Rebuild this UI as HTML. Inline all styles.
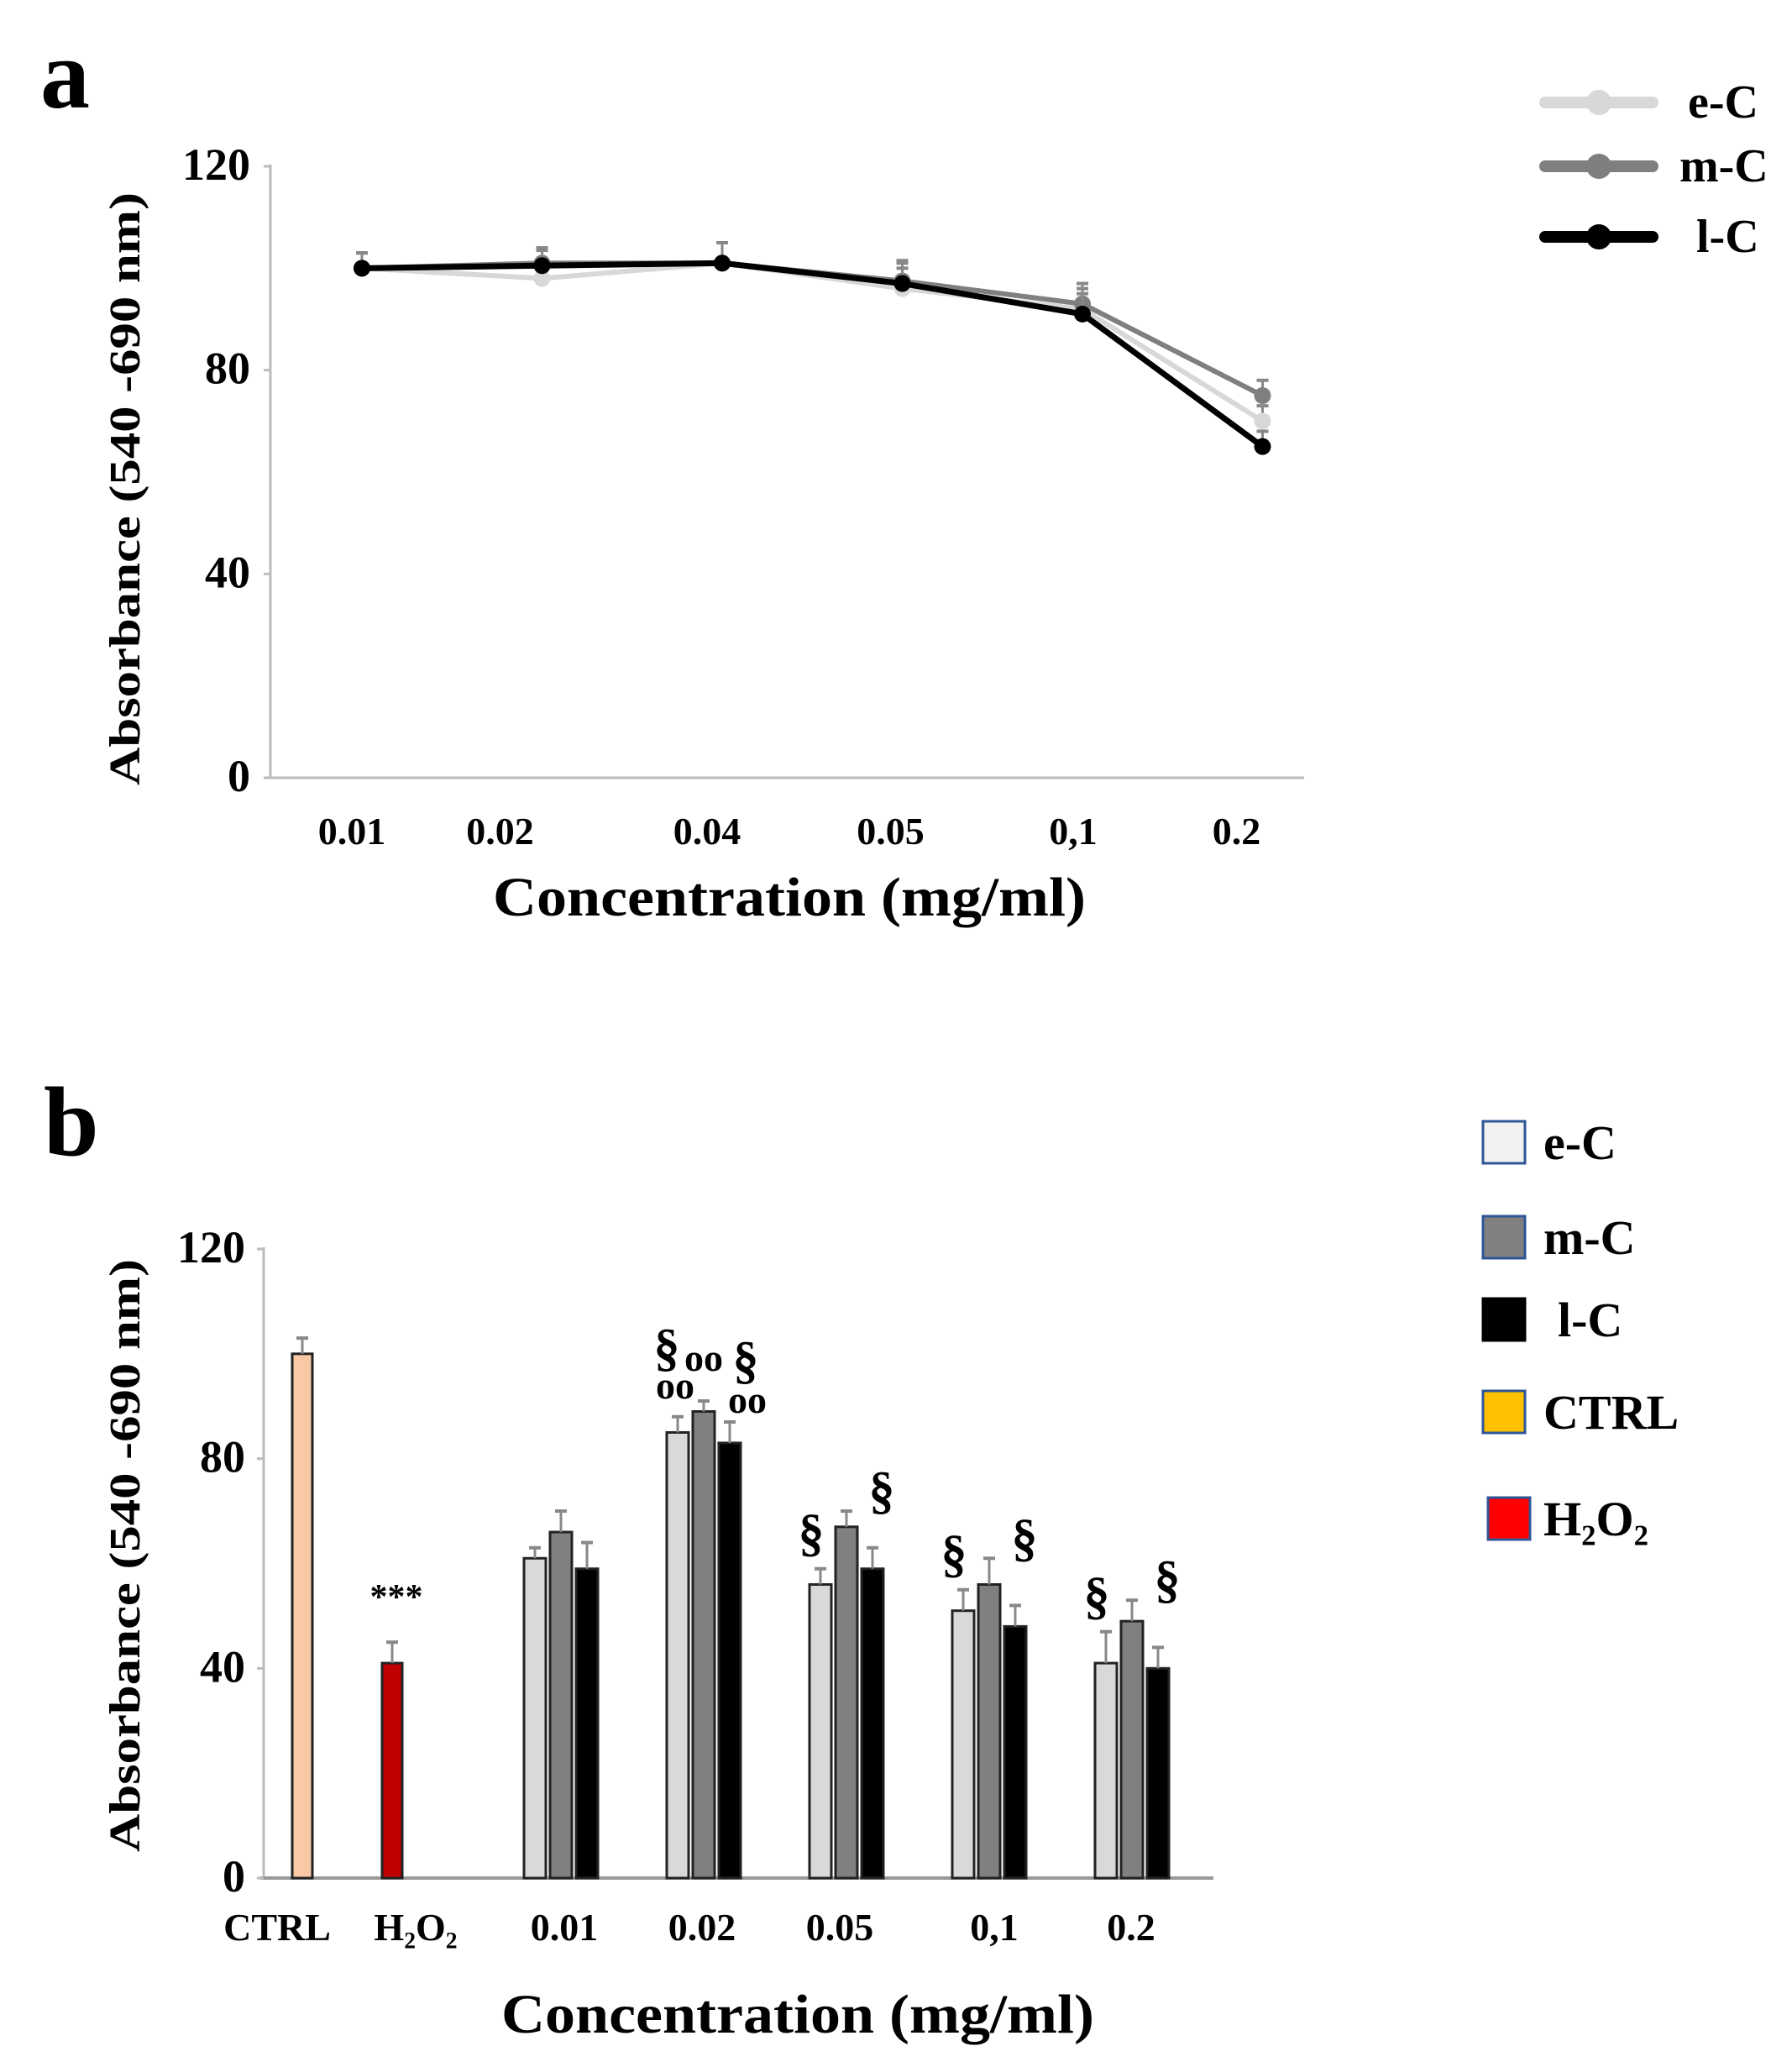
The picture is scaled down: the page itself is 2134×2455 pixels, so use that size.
<!DOCTYPE html>
<html><head><meta charset="utf-8"><style>
html,body{margin:0;padding:0;background:#fff}
svg{display:block}
text{font-family:"Liberation Serif",serif;font-weight:bold;fill:#000}
</style></head><body>
<svg id="chart" width="2134" height="2455" viewBox="0 0 2134 2455" xmlns="http://www.w3.org/2000/svg">
<g id="pa"></g>
<g id="pb"></g>
</svg>
<script>
// Panel a data
const aCats = ["0.01","0.02","0.04","0.05","0,1","0.2"];
const aEC = [100, 98, 101, 96, 92, 70];
const aMC = [100, 101, 101, 97.5, 93, 75];
const aLC = [100, 100.5, 101, 97, 91, 65];
const aErr = [3, 3, 4, 4, 4, 3];
const aTicks = [0, 40, 80, 120];
// Panel b data
const bCats = ["0.01","0.02","0.05","0,1","0.2"];
const bEC = [61, 85, 56, 51, 41];
const bMC = [66, 89, 67, 56, 49];
const bLC = [59, 83, 59, 48, 40];
const bECerr = [2, 3, 3, 4, 6];
const bMCerr = [4, 2, 3, 5, 4];
const bLCerr = [5, 4, 4, 4, 4];
const bCtrl = 100, bCtrlErr = 3, bH2O2 = 41, bH2O2Err = 4;
const bTicks = [0, 40, 80, 120];

const NS = "http://www.w3.org/2000/svg";
function mk(parent, tag, attrs, txt){
  const e = document.createElementNS(NS, tag);
  for (const k in attrs) e.setAttribute(k, attrs[k]);
  if (txt !== undefined) e.textContent = txt;
  parent.appendChild(e); return e;
}
// ---------- Panel a ----------
const pa = document.getElementById('pa');
const ay = v => 926 - v * (926 - 198) / 120;
const ax = i => 431 + i * 214.5;
let t = mk(pa,'text',{x:48,y:128,'font-size':118});
t.textContent='a';


let l = mk(pa,'line',{x1:322,y1:196,x2:322,y2:926,stroke:'#bbb','stroke-width':3});


l = mk(pa,'line',{x1:318,y1:926,x2:1553,y2:926,stroke:'#bbb','stroke-width':3});


aTicks.forEach(v=>{
  const tt = mk(pa,'text',{x:298,y:ay(v)+16,'font-size':54,'text-anchor':'end'}, String(v));
  
  
  mk(pa,'line',{x1:314,x2:322,y1:ay(v),y2:ay(v),stroke:'#bbb','stroke-width':3});
});
const aLabOff=[-12,-50,-18,-14,-11,-31];
aCats.forEach((c,i)=>{
  const tt = mk(pa,'text',{x:ax(i)+aLabOff[i],y:1005,'font-size':46,'text-anchor':'middle'}, c);
  
  
});
t = mk(pa,'text',{x:940,y:1090,'font-size':66,'text-anchor':'middle',textLength:706,lengthAdjust:'spacingAndGlyphs'},'Concentration  (mg/ml)');


t = mk(pa,'text',{x:0,y:0,'font-size':52,'text-anchor':'middle',textLength:706,lengthAdjust:'spacingAndGlyphs',transform:'translate(166,582) rotate(-90)'},'Absorbance (540 -690 nm)');


const aSeries=[[aEC,'#d8d8d8',6,'e-C'],[aMC,'#7f7f7f',6,'m-C'],[aLC,'#000',7,'l-C']];
aSeries.forEach(([vals,col,w,name])=>{
  const g = mk(pa,'g',{});
  
  
  vals.forEach((v,i)=>{
    mk(g,'line',{x1:ax(i),x2:ax(i),y1:ay(v),y2:ay(v+aErr[i]),stroke:'#888','stroke-width':3});
    mk(g,'line',{x1:ax(i)-7,x2:ax(i)+7,y1:ay(v+aErr[i]),y2:ay(v+aErr[i]),stroke:'#888','stroke-width':4});
  });
  const p = mk(g,'polyline',{points:vals.map((v,i)=>ax(i)+','+ay(v)).join(' '),fill:'none',stroke:col,'stroke-width':w});
  
  
  vals.forEach((v,i)=>{
    const c = mk(g,'circle',{cx:ax(i),cy:ay(v),r:10,fill:col});
    
    
  });
});
const aLeg=[['e-C','#d8d8d8',122],['m-C','#7f7f7f',198],['l-C','#000',282]];
aLeg.forEach(([n,col,y],k)=>{
  const g = mk(pa,'g',{});
  
  
  mk(g,'line',{x1:1840,x2:1968,y1:y,y2:y,stroke:col,'stroke-width':14,'stroke-linecap':'round'});
  mk(g,'circle',{cx:1904,cy:y,r:15,fill:col});
  mk(g,'text',{x:[2010,2000,2020][k],y:y+18,'font-size':56},n);
});
// ---------- Panel b ----------
const pb = document.getElementById('pb');
const by = v => 2236 - v * (2236 - 1487) / 120;
t = mk(pb,'text',{x:52,y:1375,'font-size':118},'b');


l = mk(pb,'line',{x1:314,y1:1485,x2:314,y2:2236,stroke:'#bbb','stroke-width':3});


l = mk(pb,'line',{x1:310,y1:2236,x2:1445,y2:2236,stroke:'#999','stroke-width':4});


bTicks.forEach(v=>{
  const tt = mk(pb,'text',{x:292,y:by(v)+16,'font-size':54,'text-anchor':'end'}, String(v));
  
  
  mk(pb,'line',{x1:306,x2:314,y1:by(v),y2:by(v),stroke:'#bbb','stroke-width':3});
});
function bar(x,w,v,err,fill,name){
  const r = mk(pb,'rect',{x:x-w/2,y:by(v),width:w,height:by(0)-by(v),fill:fill,stroke:'#222','stroke-width':3});
  
  
  mk(pb,'line',{x1:x,x2:x,y1:by(v),y2:by(v+err),stroke:'#888','stroke-width':3});
  mk(pb,'line',{x1:x-7,x2:x+7,y1:by(v+err),y2:by(v+err),stroke:'#888','stroke-width':4});
}
bar(360,24,bCtrl,bCtrlErr,'#f9c9a6','bar-ctrl');
bar(467,24,bH2O2,bH2O2Err,'#c00000','bar-h2o2');
t = mk(pb,'text',{x:472,y:by(bH2O2+bH2O2Err)-40,'font-size':42,'text-anchor':'middle'},'***');


const gx = i => 668 + i * 170;
bCats.forEach((c,i)=>{
  bar(gx(i)-31,26,bEC[i],bECerr[i],'#d9d9d9','bar-eC-'+c);
  bar(gx(i),26,bMC[i],bMCerr[i],'#808080','bar-mC-'+c);
  bar(gx(i)+31,26,bLC[i],bLCerr[i],'#000','bar-lC-'+c);
});
const bLab=[['CTRL',330],['H₂O₂',495]];
bLab.forEach(([s,x])=>{
  const tt=mk(pb,'text',{x:x,y:2310,'font-size':46,'text-anchor':'middle'},s);
  
  
});
const bLabOff=[4,-2,-8,6,-1];
bCats.forEach((c,i)=>{
  const tt=mk(pb,'text',{x:gx(i)+bLabOff[i],y:2310,'font-size':46,'text-anchor':'middle'},c);
  
  
});
t = mk(pb,'text',{x:950,y:2420,'font-size':66,'text-anchor':'middle',textLength:706,lengthAdjust:'spacingAndGlyphs'},'Concentration  (mg/ml)');


t = mk(pb,'text',{x:0,y:0,'font-size':52,'text-anchor':'middle',textLength:706,lengthAdjust:'spacingAndGlyphs',transform:'translate(166,1852) rotate(-90)'},'Absorbance (540 -690 nm)');


// significance marks
function ann(x,y,s,fs,name){
  const tt=mk(pb,'text',{x:x,y:y,'font-size':fs,'text-anchor':'middle'},s);
  
  
}
ann(794,1625,'§',62,'sig-section');
ann(838,1632,'oo',46,'sig-oo');
ann(888,1640,'§',62,'sig-section');
ann(804,1665,'oo',46,'sig-oo');
ann(890,1682,'oo',46,'sig-oo');
[2,3,4].forEach(i=>{
  ann(gx(i)-42,by(bEC[i]+bECerr[i])-22,'§',62,'sig-section');
  ann(gx(i)+42,by(bMC[i]+bMCerr[i])-4,'§',62,'sig-section');
});
// legend b
const bLeg=[['e-C','#f2f2f2',1360],['m-C','#808080',1473],['l-C','#000',1571],['CTRL','#ffc000',1681],['H₂O₂','#ff0000',1808]];
bLeg.forEach(([n,col,y],k)=>{
  const g = mk(pb,'g',{});
  
  
  mk(g,'rect',{x:k==4?1772:1766,y:y-25,width:50,height:50,fill:col,stroke:k==2?'#000':'#2f5597','stroke-width':3});
  mk(g,'text',{x:k==2?1855:1838,y:y+20,'font-size':58},n);
});
</script>
</body></html>
